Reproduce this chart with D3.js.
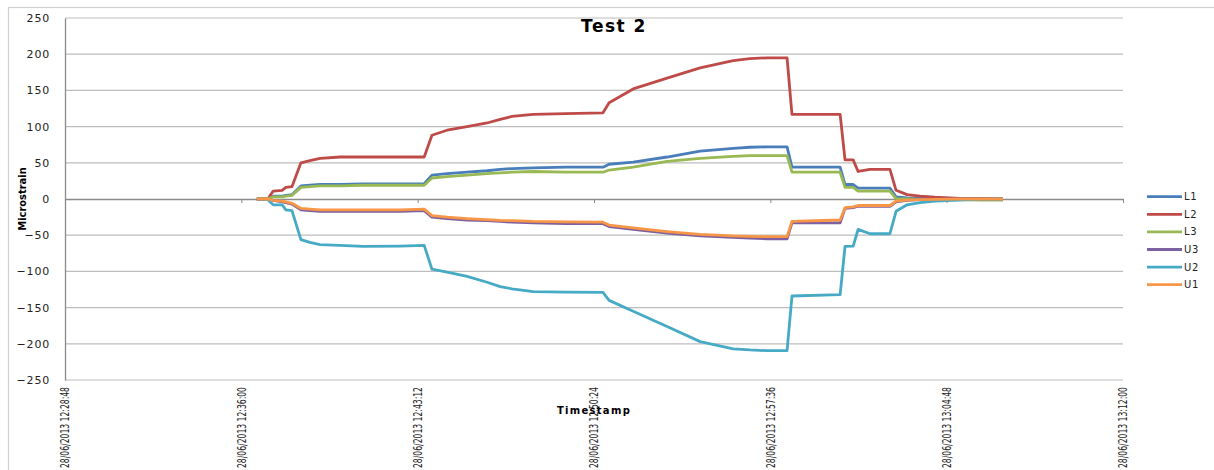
<!DOCTYPE html>
<html>
<head>
<meta charset="utf-8">
<script src="https://cdn.jsdelivr.net/npm/d3@7"></script>
<style>
  body { margin: 0; background: #fff; }
  svg { display: block; }
  .ytick { font-family: "DejaVu Sans", sans-serif; font-size: 11px; fill: #222; letter-spacing: 0.8px; }
  .xtick { font-family: "Liberation Sans Narrow", "DejaVu Sans Condensed", sans-serif; font-size: 12px; fill: #222; }
  .legend { font-family: "DejaVu Sans", sans-serif; font-size: 10px; fill: #222; letter-spacing: 0.6px; }
</style>
</head>
<body>
<div id="chart"></div>
<script>
// sample times (28/06/2013), shared by all gauges
const times = [
  "12:36:38", "12:37:05", "12:37:18", "12:37:40", "12:37:49", "12:38:04", "12:38:26", "12:38:48",
  "12:39:13", "12:40:02", "12:40:58", "12:42:29", "12:43:28", "12:43:47", "12:44:24", "12:45:13",
  "12:46:02", "12:46:34", "12:47:03", "12:47:55", "12:49:15", "12:50:46", "12:51:01", "12:52:00",
  "12:53:23", "12:54:44", "12:56:05", "12:56:46", "12:57:28", "12:58:17", "12:58:29", "13:00:27",
  "13:00:39", "13:00:59", "13:01:11", "13:01:40", "13:02:29", "13:02:44", "13:03:11", "13:03:43",
  "13:04:19", "13:05:21", "13:06:10", "13:07:06"
];

// microstrain per gauge
const L1 = [0, 0, 4, 4, 5, 6, 18, 19, 20, 20, 21, 21, 21, 33, 35, 37, 39, 41, 42, 43, 44, 44, 48, 51,
  58, 66, 70, 71.5, 72, 72, 44, 44, 20, 20, 15, 15, 15, 3, 1.5, 1, 0.5, 0, 0, 0];
const L2 = [0, 0, 11, 12, 16, 17, 50, 53, 56, 58, 58, 58, 58, 88, 95, 100, 105, 110, 114, 117, 118, 119, 133, 152,
  167, 181, 191, 194, 195, 195, 117, 117, 54, 54, 38, 41, 41, 12, 6, 4, 2.5, 1, 0.5, 0];
const L3 = [0, 0, 3, 3, 4, 5, 16, 17, 18, 18, 19, 19, 19, 29, 31, 33, 35, 36, 37, 38, 37, 37, 40, 44,
  52, 56, 59, 60, 60, 60, 37, 37, 16, 16, 11, 11, 11, 0.5, 0, -0.5, -1, -1, -1.5, -1.5];
const U3 = [0, -1, -2, -4, -5, -7, -15, -16, -17, -17, -17, -17, -16, -25, -27, -29, -30, -31, -32, -33, -34, -34, -38, -42,
  -47, -51, -53, -54, -55, -55, -33, -33, -13, -12, -10, -10, -10, -4, -2, -1, -0.5, 0, 0, 0];
const U2 = [0, -1, -8, -8, -15, -16, -56, -60, -63, -64, -65.5, -65, -64, -97, -101, -107, -115, -121, -124, -128, -128.5, -129, -140, -155,
  -176, -197, -207, -208.5, -209.5, -209.5, -134, -132, -65.5, -65, -42, -48, -48, -17, -8, -5, -3, -1.5, -0.5, 0];
const U1 = [0, 0, -2, -3, -4, -6, -13, -14, -15, -15, -15, -15, -14, -23, -25, -27, -28.5, -29.5, -30, -31, -31.5, -32, -36, -40,
  -45, -49, -51, -51.5, -52, -52, -31, -29, -12, -11, -9, -9, -9, -3, -1.5, -1, -0.5, 0, 0, 0];

const seriesNames = ["L1", "L2", "L3", "U3", "U2", "U1"];
const seriesValues = [L1, L2, L3, U3, U2, U1];
const seriesColors = ["#4A7EBB", "#BE4B48", "#98B954", "#7D60A0", "#46AAC5", "#F79646"];

const xTickLabels = ["28/06/2013 12:28:48", "28/06/2013 12:36:00", "28/06/2013 12:43:12", "28/06/2013 12:50:24",
  "28/06/2013 12:57:36", "28/06/2013 13:04:48", "28/06/2013 13:12:00"];
const yTicks = [-250, -200, -150, -100, -50, 0, 50, 100, 150, 200, 250];

const width = 1214, height = 470;
const parse = d3.timeParse("%d/%m/%Y %H:%M:%S");
const tickDates = xTickLabels.map(parse);

const x = d3.scaleTime()
  .domain([tickDates[0], tickDates[tickDates.length - 1]])
  .range([65, 1123]);
const y = d3.scaleLinear().domain([-250, 250]).range([380, 18]);

const svg = d3.select("#chart").append("svg")
  .attr("width", width)
  .attr("height", height);

// chart frame
svg.append("rect")
  .attr("x", 8.5).attr("y", 7.5)
  .attr("width", 1230).attr("height", 500)
  .attr("fill", "none").attr("stroke", "#d0d0d0").attr("stroke-width", 1.2);

// gridlines
svg.append("g")
  .selectAll("line")
  .data(yTicks.filter(d => d !== 0))
  .join("line")
  .attr("x1", 65).attr("x2", 1123)
  .attr("y1", d => y(d)).attr("y2", d => y(d))
  .attr("stroke", "#bdbdbd").attr("stroke-width", 1.2);

// y axis
const yAxis = svg.append("g")
  .attr("transform", "translate(65,0)")
  .call(d3.axisLeft(y).tickValues(yTicks).tickSize(0).tickPadding(15));
yAxis.select(".domain").attr("stroke", "#8a8a8a").attr("stroke-width", 1.3);
yAxis.selectAll("text").attr("class", "ytick").attr("font-family", null).attr("font-size", null).attr("fill", null);

// x axis along zero line
const xAxis = svg.append("g")
  .attr("transform", "translate(0," + y(0) + ")")
  .call(d3.axisBottom(x).tickValues(tickDates).tickSize(4).tickSizeOuter(0).tickFormat(""));
xAxis.select(".domain").attr("stroke", "#8a8a8a").attr("stroke-width", 1.3);
xAxis.selectAll(".tick line").attr("stroke", "#8a8a8a");

// x tick labels at the bottom
svg.append("g")
  .selectAll("text")
  .data(tickDates)
  .join("text")
  .attr("class", "xtick")
  .attr("transform", (d, i) => "translate(" + x(d) + ",387) rotate(-90)")
  .attr("text-anchor", "end")
  .attr("dy", "0.35em")
  .attr("textLength", 81)
  .attr("lengthAdjust", "spacingAndGlyphs")
  .text((d, i) => xTickLabels[i]);

// series lines
const line = d3.line()
  .x(d => x(d.t))
  .y(d => y(d.v));

const series = seriesNames.map((name, i) => ({
  name: name,
  color: seriesColors[i],
  points: times.map((t, j) => ({ t: parse("28/06/2013 " + t), v: seriesValues[i][j] }))
}));

svg.append("g")
  .selectAll("path")
  .data(series)
  .join("path")
  .attr("d", d => line(d.points))
  .attr("fill", "none")
  .attr("stroke", d => d.color)
  .attr("stroke-width", 2.8)
  .attr("stroke-linejoin", "round");

// titles
svg.append("text")
  .attr("x", 614).attr("y", 32)
  .attr("text-anchor", "middle")
  .attr("font-family", "DejaVu Sans, sans-serif")
  .attr("font-weight", "bold")
  .attr("font-size", 17)
  .attr("letter-spacing", 1.5)
  .text("Test 2");

svg.append("text")
  .attr("transform", "translate(26,199) rotate(-90)")
  .attr("text-anchor", "middle")
  .attr("font-family", "Liberation Sans Narrow, DejaVu Sans Condensed, sans-serif")
  .attr("font-weight", "bold")
  .attr("font-size", 11)
  .text("Microstrain");

svg.append("text")
  .attr("x", 594).attr("y", 414)
  .attr("text-anchor", "middle")
  .attr("font-family", "DejaVu Sans, sans-serif")
  .attr("font-weight", "bold")
  .attr("font-size", 10)
  .attr("letter-spacing", 1.3)
  .text("Timestamp");

// legend
const legend = svg.append("g")
  .selectAll("g")
  .data(series)
  .join("g")
  .attr("transform", (d, i) => "translate(1147," + (196.7 + i * 17.6) + ")");

legend.append("line")
  .attr("x1", 0).attr("x2", 35)
  .attr("stroke", d => d.color)
  .attr("stroke-width", 2.8);

legend.append("text")
  .attr("class", "legend")
  .attr("x", 37)
  .attr("dy", "0.35em")
  .text(d => d.name);
</script>
</body>
</html>
